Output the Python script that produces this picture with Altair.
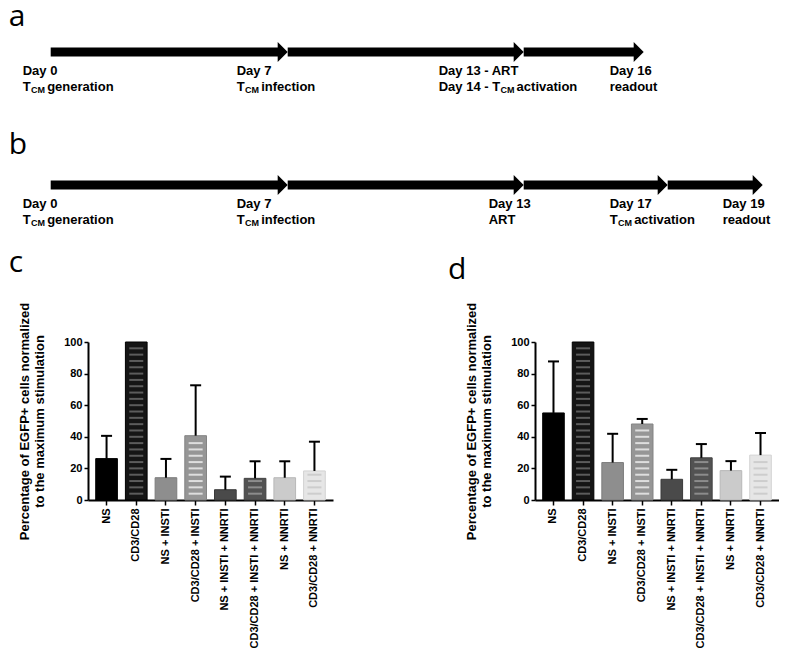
import altair as alt
import pandas as pd

# ---------------- panels a / b : experimental timelines ----------------
SEG_ROW = ["a", "a", "a", "b", "b", "b", "b"]
SEG_START = [0, 7, 13, 0, 7, 13, 17]
SEG_END = [7, 13, 16, 7, 13, 17, 19]

LAB_ROW = ["a", "a", "a", "a", "b", "b", "b", "b", "b"]
LAB_DAY = [0, 7, 13, 16, 0, 7, 13, 17, 19]
LAB_LINE1 = ["Day 0", "Day 7", "Day 13 - ART", "Day 16",
             "Day 0", "Day 7", "Day 13", "Day 17", "Day 19"]
LAB_PRE = ["", "", "Day 14 - ", "", "", "", "", "", ""]
LAB_TCM = [True, True, True, False, True, True, False, True, False]
LAB_POST = ["generation", "infection", "activation", "readout",
            "generation", "infection", "ART", "activation", "readout"]

# ---------------- panels c / d : bar charts ----------------
CATS = ["NS", "CD3/CD28", "NS + INSTI", "CD3/CD28 + INSTI",
        "NS + INSTI + NNRTI", "CD3/CD28 + INSTI + NNRTI",
        "NS + NNRTI", "CD3/CD28 + NNRTI"]
C_MEAN = [26.2, 100, 14.1, 40.7, 6.5, 13.7, 14.1, 18.4]
C_UPPER = [40.6, 100, 26.0, 72.6, 14.8, 24.5, 24.5, 36.9]
D_MEAN = [55.1, 100, 23.7, 48.1, 13.1, 26.7, 18.6, 28.4]
D_UPPER = [87.7, 100, 41.9, 51.3, 19.1, 35.4, 24.6, 42.4]
Y_TITLE = ["Percentage of EGFP+ cells normalized", "to the maximum stimulation"]

# ---------------- style ----------------
FONT = "Liberation Sans"
LETTER_FONT = "Open Sans"
FILL = ["#000000", "#151515", "#8e8e8e", "#969696", "#4a4a4a", "#525252", "#cbcbcb", "#e6e6e6"]
EDGE = ["#000000", "#000000", "#7c7c7c", "#838383", "#3a3a3a", "#404040", "#b8b8b8", "#d2d2d2"]
STRIPE = [None, "#5c5c5c", None, "#dedede", None, "#8c8c8c", None, "#cdcdcd"]
# schematic day -> pixel mapping (relative to the left edge of panel c's plot)
DAY_DOMAIN = [0, 7, 13, 16, 17, 19]
DAY_RANGE = [-37.3, 199.7, 435.7, 555.7, 579.7, 674.7]
ROW_RANGE = [50, 183]
LETTER_DY = {"a": -26, "b": -31}
LAB_DX = [-28, -51, -85, -34, -28, -51, -35, -58, -40]
ARROW = "M -1 -1 L 0 0 L -1 1 Z"

AW = {" ": 278, "-": 333, "0": 556, "1": 556, "2": 556, "3": 556, "4": 556,
      "5": 556, "6": 556, "7": 556, "8": 556, "9": 556, "D": 722, "a": 556,
      "y": 556, "T": 611, "C": 722, "M": 833}


def tw(s, size):
    return sum(AW.get(ch, 556) for ch in s) / 1000.0 * size


xscale = alt.Scale(domain=DAY_DOMAIN, range=DAY_RANGE, zero=False, nice=False)
y_row = alt.Y("row:N", scale=alt.Scale(type="point", domain=["a", "b"],
                                       range=ROW_RANGE, padding=0), axis=None)

seg = pd.DataFrame({"row": SEG_ROW, "start": SEG_START, "end": SEG_END})
shaft = alt.Chart(seg).mark_rule(strokeWidth=9, strokeCap="butt", color="black",
                                 x2Offset=-9).encode(
    x=alt.X("start:Q", scale=xscale, axis=None), x2="end:Q", y=y_row)
head = alt.Chart(seg).mark_point(shape=ARROW, size=400, filled=True, color="black",
                                 opacity=1, strokeWidth=0).encode(
    x=alt.X("end:Q", scale=xscale, axis=None), y=y_row)

letter_layers = []
for r in ["a", "b"]:
    letter_layers.append(
        alt.Chart(pd.DataFrame({"row": [r], "day": [0], "t": [r]})).mark_text(
            align="left", baseline="alphabetic", dx=-42, dy=LETTER_DY[r],
            font=LETTER_FONT, fontSize=30, fontWeight="normal", color="black").encode(
            x=alt.X("day:Q", scale=xscale, axis=None), y=y_row, text="t:N"))

text_layers = []
for i in range(len(LAB_ROW)):
    d = pd.DataFrame({"row": [LAB_ROW[i]], "day": [LAB_DAY[i]]})
    base = alt.Chart(d).encode(x=alt.X("day:Q", scale=xscale, axis=None), y=y_row)
    kw = dict(align="left", baseline="alphabetic", font=FONT, fontWeight="bold", color="black")
    dx = LAB_DX[i]
    text_layers.append(base.mark_text(dx=dx, dy=22.5, fontSize=13, text=LAB_LINE1[i], **kw))
    if LAB_TCM[i]:
        first = LAB_PRE[i] + "T"
        w1 = tw(first, 13)
        text_layers.append(base.mark_text(dx=dx, dy=38.5, fontSize=13, text=first, **kw))
        text_layers.append(base.mark_text(dx=dx + w1 + 0.3, dy=41, fontSize=9, text="CM", **kw))
        text_layers.append(base.mark_text(dx=dx + w1 + 0.3 + tw("CM", 9) + 2.2, dy=38.5,
                                          fontSize=13, text=LAB_POST[i], **kw))
    else:
        text_layers.append(base.mark_text(dx=dx, dy=38.5, fontSize=13, text=LAB_POST[i], **kw))

top = alt.layer(shaft, head, *letter_layers, *text_layers).properties(width=690, height=330)


def panel(letter, mean, upper, title_dx, title_offset, width):
    df = pd.DataFrame({"cat": CATS, "mean": mean, "upper": upper,
                       "fill": FILL, "edge": EDGE, "stripe": STRIPE})
    x = alt.X("cat:N", sort=CATS,
              scale=alt.Scale(paddingInner=0.27, paddingOuter=0.26),
              axis=alt.Axis(title=None, labelAngle=-90, labelFont=FONT, labelFontSize=11,
                            labelFontWeight="bold", labelColor="black", labelPadding=3,
                            tickSize=5, tickWidth=1.5, tickColor="black",
                            domainColor="black", domainWidth=2))
    yaxis = alt.Axis(title=Y_TITLE, values=[0, 20, 40, 60, 80, 100], grid=False,
                     titleFont=FONT, titleFontSize=13, titleFontWeight="bold",
                     titleColor="black", titleLineHeight=15.5, titlePadding=17,
                     labelFont=FONT, labelFontSize=11, labelFontWeight="bold",
                     labelColor="black", labelPadding=2, tickSize=4, tickWidth=1.5,
                     tickColor="black", domainColor="black", domainWidth=2)

    def y(f):
        return alt.Y(f, type="quantitative",
                     scale=alt.Scale(domain=[0, 100], nice=False, zero=True), axis=yaxis)

    base = alt.Chart(df)
    bars = base.mark_bar(strokeWidth=1).encode(
        x=x, y=y("mean"), color=alt.Color("fill:N", scale=None),
        stroke=alt.Stroke("edge:N", scale=None))
    stripes = base.transform_filter("datum.stripe != null").transform_calculate(
        s="sequence(4, datum.mean - 1.5, 4)").transform_flatten(["s"]).mark_tick(
        thickness=2, size=14, opacity=1).encode(
        x=x, y=y("s"), color=alt.Color("stripe:N", scale=None))
    errs = base.transform_filter("datum.upper > datum.mean")
    stem = errs.mark_rule(strokeWidth=2, color="black").encode(x=x, y=y("mean"), y2="upper:Q")
    cap = errs.mark_tick(thickness=2, size=11, color="black", opacity=1).encode(x=x, y=y("upper"))
    return alt.layer(bars, stripes, stem, cap).properties(
        width=width, height=158,
        title=alt.TitleParams(letter, anchor="start", frame="group", dx=title_dx,
                              fontSize=30, font=LETTER_FONT, fontWeight="normal",
                              color="black", offset=title_offset))


bottom = alt.hconcat(panel("c", C_MEAN, C_UPPER, -79.3, 24, 245),
                     panel("d", D_MEAN, D_UPPER, -87, 17, 244),
                     spacing=202, bounds="flush")

chart = alt.vconcat(top, bottom, spacing=10, bounds="flush").properties(
    padding={"left": 0, "top": -6, "right": 0, "bottom": 0}
).configure_view(stroke=None)

chart.save("out.html", embed_options={"renderer": "svg", "actions": False})
